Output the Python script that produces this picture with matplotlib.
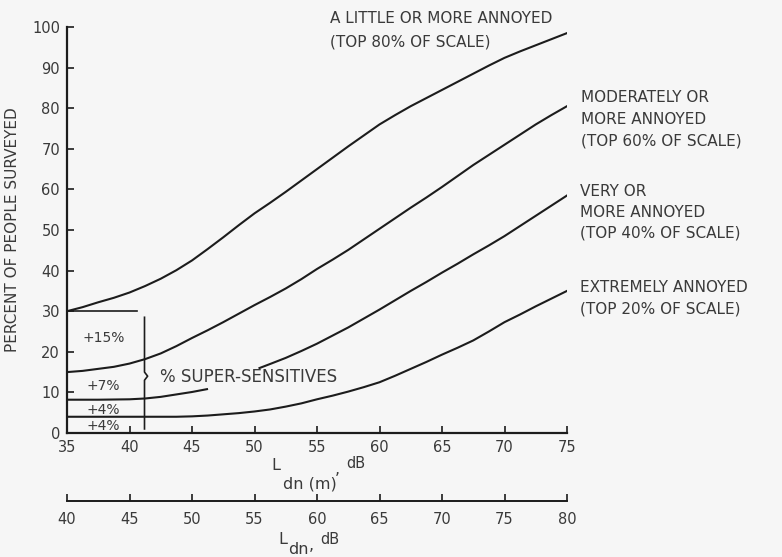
import numpy as np
import matplotlib
matplotlib.use('Agg')
from matplotlib import pyplot as plt

# L_dn(m) values (dB) and percent of people surveyed
ldn_m = [35, 36.25, 37.5, 38.75, 40, 41.25, 42.5, 43.75, 45, 46.25, 47.5, 48.75,
         50, 51.25, 52.5, 53.75, 55, 56.25, 57.5, 58.75, 60, 61.25, 62.5, 63.75,
         65, 66.25, 67.5, 68.75, 70, 71.25, 72.5, 73.75, 75]
little = [30, 31, 32.2, 33.3, 34.6, 36.2, 38, 40.1, 42.5, 45.3, 48.2, 51.2,
          54.1, 56.7, 59.4, 62.2, 65, 67.8, 70.6, 73.3, 76, 78.3, 80.5, 82.5,
          84.5, 86.5, 88.5, 90.5, 92.4, 94, 95.5, 97, 98.5]
moderate = [15, 15.3, 15.8, 16.3, 17.1, 18.2, 19.6, 21.4, 23.4, 25.3, 27.3, 29.4,
            31.5, 33.5, 35.6, 37.9, 40.4, 42.7, 45.1, 47.7, 50.3, 52.9, 55.5, 58,
            60.6, 63.3, 66, 68.5, 71, 73.5, 76, 78.3, 80.5]
extreme = [4, 4, 4, 4, 4, 4, 4, 4, 4.1, 4.3, 4.6, 4.9,
           5.3, 5.8, 6.5, 7.3, 8.3, 9.2, 10.2, 11.3, 12.5, 14.1, 15.8, 17.5,
           19.3, 21, 22.8, 25, 27.3, 29.2, 31.2, 33.1, 35]

# "very" curve is broken where the super-sensitives label sits
very_x1 = [35, 37.5, 40, 41.25, 42.5, 43.75, 45, 46.2]
very_y1 = [8.2, 8.2, 8.3, 8.5, 8.9, 9.5, 10.1, 10.8]
very_x2 = [50.4, 51.25, 52.5, 53.75, 55, 56.25, 57.5, 58.75, 60, 61.25, 62.5,
           63.75, 65, 66.25, 67.5, 68.75, 70, 71.25, 72.5, 73.75, 75]
very_y2 = [16, 17, 18.5, 20.2, 22, 24, 26, 28.2, 30.4, 32.7, 35,
           37.2, 39.5, 41.7, 44, 46.2, 48.5, 51, 53.5, 56, 58.5]

main_ticks = [35, 40, 45, 50, 55, 60, 65, 70, 75]
ldn_ticks = [40, 45, 50, 55, 60, 65, 70, 75, 80]
y_ticks = [0, 10, 20, 30, 40, 50, 60, 70, 80, 90, 100]

# super-sensitive increments
ss_labels = ['+15%', '+7%', '+4%', '+4%']
ss_y = [23.4, 11.6, 5.7, 1.7]

curve_labels = [
    ('A LITTLE OR MORE ANNOYED\n(TOP 80% OF SCALE)', 56.0, 99.2, 1.75),
    ('MODERATELY OR\nMORE ANNOYED\n(TOP 60% OF SCALE)', 76.1, 77.2, 1.55),
    ('VERY OR\nMORE ANNOYED\n(TOP 40% OF SCALE)', 76.0, 54.4, 1.5),
    ('EXTREMELY ANNOYED\n(TOP 20% OF SCALE)', 76.0, 33.2, 1.6),
]

ink = '#1c1c1c'
txt = '#3a3a3a'
plt.rcParams['font.family'] = 'DejaVu Sans'

W, H = 782, 557
fig = plt.figure(figsize=(W / 100, H / 100), dpi=100)
fig.patch.set_facecolor('#f6f6f6')

def fx(px):
    return px / W

def fy(py):
    return 1 - py / H

ax = fig.add_axes([fx(67), fy(433), fx(567) - fx(67), fy(27) - fy(433)])
ax.set_facecolor('none')

lw = 1.5
ax.plot(ldn_m, little, color=ink, lw=lw)
ax.plot(ldn_m, moderate, color=ink, lw=lw)
ax.plot(very_x1, very_y1, color=ink, lw=lw)
ax.plot(very_x2, very_y2, color=ink, lw=lw)
ax.plot(ldn_m, extreme, color=ink, lw=lw)

# bracket around the super-sensitive band
ax.plot([35, 40.6], [30, 30], color=ink, lw=1.2)
ax.plot([41.2, 41.2, 41.45, 41.2, 41.2], [28.5, 15, 14, 13, 1], color=ink, lw=1.2)

for s, yv in zip(ss_labels, ss_y):
    ax.text(37.9, yv, s, ha='center', va='center', fontsize=10, color=txt)
ax.text(42.4, 13.8, '% SUPER-SENSITIVES', ha='left', va='center', fontsize=12, color=txt)

for s, xv, yv, sp in curve_labels:
    ax.text(xv, yv, s, ha='left', va='center', fontsize=11, color=txt,
            linespacing=sp, clip_on=False)

ax.set_xlim(35, 75)
ax.set_ylim(0, 100)
ax.set_xticks(main_ticks)
ax.set_yticks(y_ticks)
for side in ['top', 'right']:
    ax.spines[side].set_visible(False)
for side in ['left', 'bottom']:
    ax.spines[side].set_linewidth(1.6)
    ax.spines[side].set_color(ink)
ax.tick_params(direction='in', length=5, width=1.2, color=ink,
               labelsize=10.5, labelcolor=txt, pad=5)
ax.set_ylabel('PERCENT OF PEOPLE SURVEYED', fontsize=11, color=txt, labelpad=9)

fig.text(fx(276), fy(466), 'L', ha='center', va='center', fontsize=11.5, color=txt)
fig.text(fx(310), fy(484), 'dn (m)', ha='center', va='center', fontsize=11.5, color=txt)
fig.text(fx(337), fy(470), ',', ha='center', va='center', fontsize=11.5, color=txt)
fig.text(fx(356), fy(464), 'dB', ha='center', va='center', fontsize=10.5, color=txt)

# secondary scale: L_dn
ax2 = fig.add_axes([fx(67), fy(501), fx(567) - fx(67), 0.0001])
ax2.set_facecolor('none')
ax2.set_xlim(40, 80)
ax2.set_xticks(ldn_ticks)
ax2.set_yticks([])
for side in ['top', 'right', 'left']:
    ax2.spines[side].set_visible(False)
ax2.spines['bottom'].set_linewidth(1.4)
ax2.spines['bottom'].set_color(ink)
ax2.tick_params(direction='in', length=5, width=1.2, color=ink,
                labelsize=10.5, labelcolor=txt, pad=8)

fig.text(fx(283), fy(539), 'L', ha='center', va='center', fontsize=11.5, color=txt)
fig.text(fx(298), fy(549), 'dn', ha='center', va='center', fontsize=11.5, color=txt)
fig.text(fx(311), fy(545), ',', ha='center', va='center', fontsize=11.5, color=txt)
fig.text(fx(330), fy(540), 'dB', ha='center', va='center', fontsize=10.5, color=txt)

fig.savefig('out.png', dpi=100, facecolor=fig.get_facecolor())
